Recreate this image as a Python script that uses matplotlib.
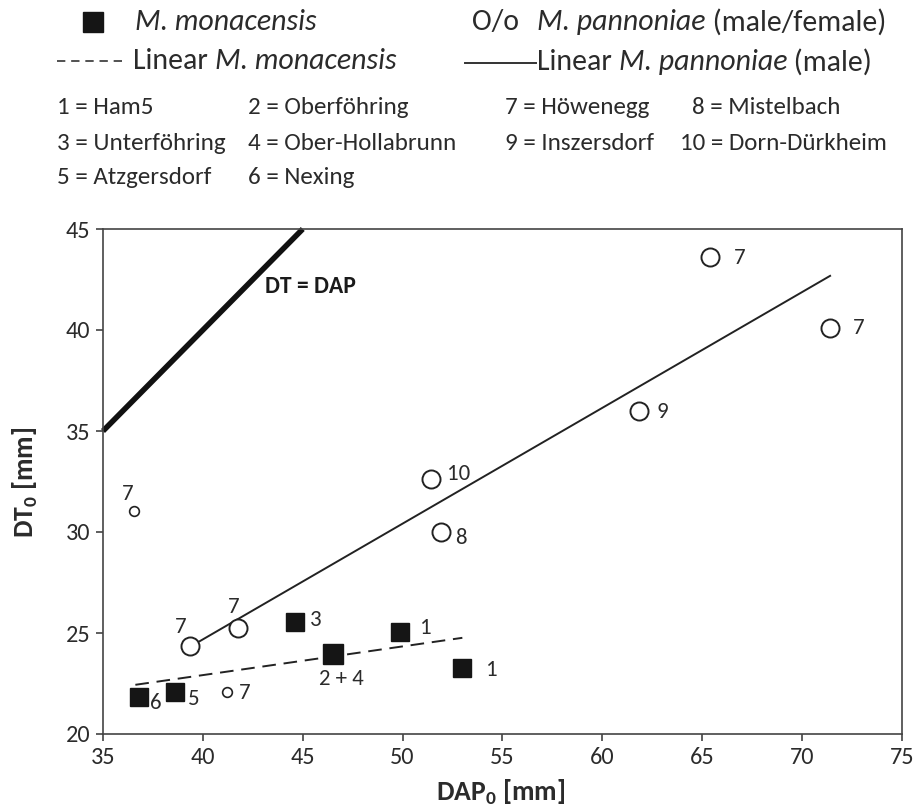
import numpy as np
import matplotlib
matplotlib.use("Agg")
import matplotlib.pyplot as plt
from matplotlib.lines import Line2D
from matplotlib import font_manager as fm

# ---------------- data ----------------
mon_x = [36.82, 38.6, 44.6, 46.49, 49.89, 52.99]
mon_y = [21.85, 22.06, 25.53, 23.95, 25.03, 23.25]
mon_lab = ["6", "5", "3", "2 + 4", "1", "1"]

pan_m_x = [39.35, 41.77, 51.43, 51.9, 61.85, 65.4, 71.4]
pan_m_y = [24.36, 25.23, 32.6, 29.99, 36.0, 43.6, 40.1]
pan_m_lab = ["7", "7", "10", "8", "9", "7", "7"]

pan_f_x = [36.55, 41.19]
pan_f_y = [31.04, 22.09]
pan_f_lab = ["7", "7"]

key_labels = [
    ["1 = Ham5", "2 = Oberföhring", "7 = Höwenegg", "8 = Mistelbach"],
    ["3 = Unterföhring", "4 = Ober-Hollabrunn", "9 = Inszersdorf", "10 = Dorn-Dürkheim"],
    ["5 = Atzgersdorf", "6 = Nexing"],
]

x_ticks = [35, 40, 45, 50, 55, 60, 65, 70, 75]
y_ticks = [20, 25, 30, 35, 40, 45]

# ---------------- fonts ----------------
avail = {f.name for f in fm.fontManager.ttflist}
fam = "DejaVu Sans"
for cand in ["Carlito", "Lato", "Open Sans"]:
    if cand in avail:
        fam = cand
        break
plt.rcParams["font.family"] = [fam, "DejaVu Sans"]
plt.rcParams["mathtext.fontset"] = "custom"
plt.rcParams["mathtext.rm"] = fam
plt.rcParams["mathtext.it"] = fam + ":italic"
plt.rcParams["mathtext.bf"] = fam + ":bold"

TXT = "#2b2b2b"
W, H = 916, 810
fig = plt.figure(figsize=(W / 100, H / 100), dpi=100)
L, R, T, B = 103, 902, 229, 734
ax = fig.add_axes([L / W, 1 - B / H, (R - L) / W, (B - T) / H])

# identity line
ax.plot([35, 45], [35, 45], color="#111111", lw=4.0, solid_capstyle="butt", zorder=2,
        clip_on=False)
ax.text(43.1, 42.14, "DT = DAP", fontsize=17, fontweight="bold", color="#1a1a1a",
        va="center", ha="left")

# regression lines
cm = np.polyfit(mon_x, mon_y, 1)
xx = np.array([min(mon_x) - 0.2, max(mon_x)])
ax.plot(xx, np.polyval(cm, xx), color="#222222", lw=1.4, dashes=(7, 4), zorder=2)
cp = np.polyfit(pan_m_x, pan_m_y, 1)
xx = np.array([min(pan_m_x), max(pan_m_x)])
ax.plot(xx, np.polyval(cp, xx), color="#222222", lw=1.4, zorder=2)

# markers
ax.plot(mon_x, mon_y, ls="none", marker="s", ms=13.5, mfc="#151515", mec="#151515", zorder=3)
ax.plot([mon_x[3]], [mon_y[3]], ls="none", marker="s", ms=15, mfc="#151515",
        mec="#151515", zorder=3)
ax.plot(pan_m_x, pan_m_y, ls="none", marker="o", ms=13, mfc="white", mec="#222222",
        mew=1.4, zorder=3)
ax.plot(pan_f_x, pan_f_y, ls="none", marker="o", ms=7, mfc="white", mec="#222222",
        mew=1.2, zorder=3)

# point labels (offsets in points)
mon_off = [(11.8, -4.8), (13.7, -5), (15.1, 1.7), (6.5, -18), (18, 2.9), (20.9, -1.2)]
pan_m_off = [(-6.7, 13.9), (-3.1, 15.6), (19.9, 4.3), (14.9, -4.3), (16.8, -0.7),
             (20.9, -0.7), (20.9, 0)]
pan_f_off = [(-4.3, 12.2), (13.2, -1.2)]
for xs, ys, ls, offs in [(mon_x, mon_y, mon_lab, mon_off),
                         (pan_m_x, pan_m_y, pan_m_lab, pan_m_off),
                         (pan_f_x, pan_f_y, pan_f_lab, pan_f_off)]:
    for x, y, l, o in zip(xs, ys, ls, offs):
        ax.annotate(l, (x, y), xytext=o, textcoords="offset points", ha="center",
                    va="center", fontsize=16.5, color=TXT)

ax.set_xlim(35, 75)
ax.set_ylim(20, 45)
ax.set_xticks(x_ticks)
ax.set_yticks(y_ticks)
ax.tick_params(direction="out", length=5, width=1.1, colors="#333333",
               labelsize=17.5, labelcolor=TXT, pad=4)
for s in ax.spines.values():
    s.set_color("#444444")
    s.set_linewidth(1.2)
ax.set_xlabel(r"$\mathbf{DAP_0}$ [mm]", fontsize=20, fontweight="bold", color=TXT)
ax.set_ylabel(r"$\mathbf{DT_0}$ [mm]", fontsize=20, fontweight="bold", color=TXT)
ax.xaxis.set_label_coords(((501) - L) / (R - L), -(792 - B) / (B - T))
ax.yaxis.set_label_coords(-(L - 25) / (R - L), (B - 482) / (B - T))
ax.xaxis.label.set_va("center")
ax.yaxis.label.set_va("center")

# ---------------- header legend ----------------
def fy(py):
    return 1 - py / H

def fx(px):
    return px / W

renderer = fig.canvas.get_renderer()

def segs(px, py, parts, fs):
    x = px
    for txt, style in parts:
        t = fig.text(fx(x), fy(py), txt, fontsize=fs, color=TXT, va="center",
                     ha="left", fontstyle=style)
        bb = t.get_window_extent(renderer=renderer)
        x += bb.width

fs_leg = 21.5
fig.add_artist(Line2D([fx(93)], [fy(22)], marker="s", ms=14.5, mfc="#151515",
                      mec="#151515", ls="none"))
segs(135, 22, [("M. monacensis", "italic")], fs_leg)
segs(472, 22, [("O/o", "normal")], fs_leg)
segs(537, 22, [("M. pannoniae", "italic"), (" (male/female)", "normal")], fs_leg)
fig.add_artist(Line2D([fx(57), fx(127)], [fy(61), fy(61)], color="#333333", lw=1.2,
                      dashes=(5, 3.5)))
segs(133, 61, [("Linear ", "normal"), ("M. monacensis", "italic")], fs_leg)
fig.add_artist(Line2D([fx(465), fx(536)], [fy(63), fy(63)], color="#333333", lw=1.4))
segs(537, 62, [("Linear ", "normal"), ("M. pannoniae", "italic"),
               (" (male)", "normal")], fs_leg)

col_x = [[57, 248, 505, 692], [57, 248, 505, 680], [57, 248]]
row_y = [108, 144, 178]
for r, row in enumerate(key_labels):
    for c, t in enumerate(row):
        fig.text(fx(col_x[r][c]), fy(row_y[r]), t, fontsize=18, color=TXT,
                 va="center", ha="left")

fig.savefig("out.png", dpi=100)
